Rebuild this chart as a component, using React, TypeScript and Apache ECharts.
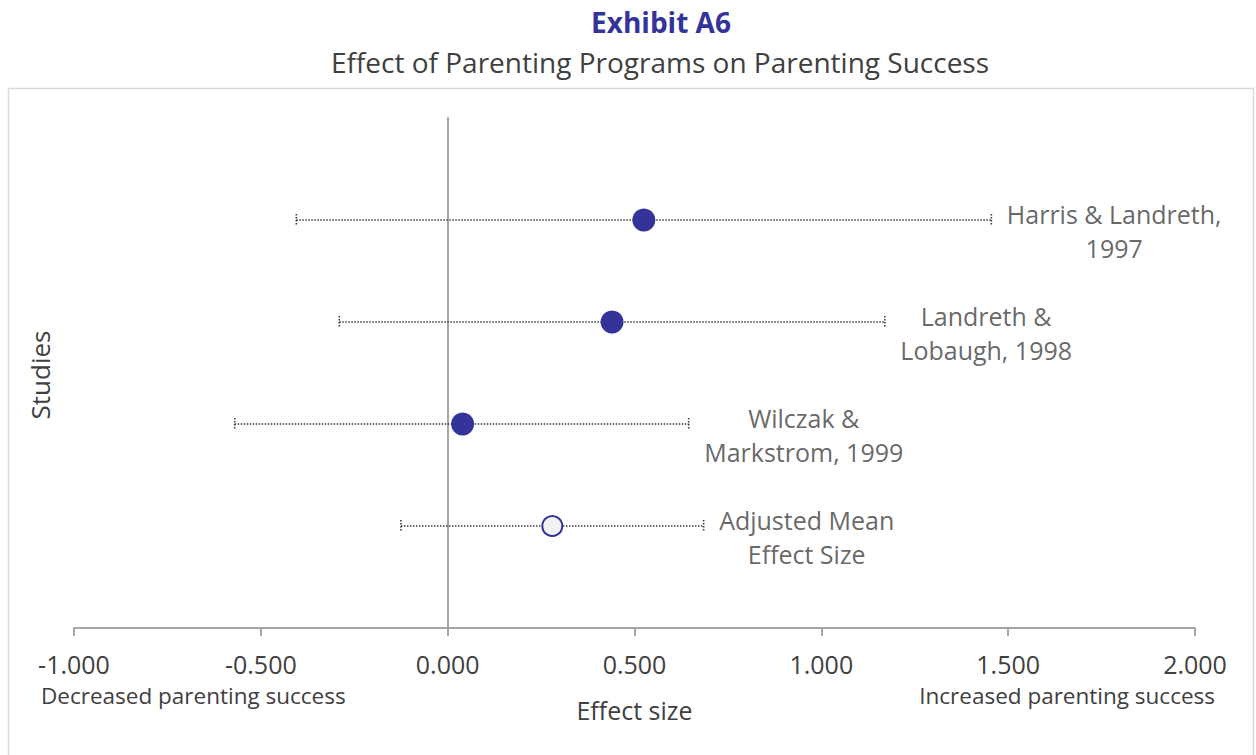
import React, { useEffect, useRef } from "react";
import * as echarts from "echarts";

const studyLabels = [
  ["Harris & Landreth,", "1997"],
  ["Landreth &", "Lobaugh, 1998"],
  ["Wilczak &", "Markstrom, 1999"],
  ["Adjusted Mean", "Effect Size"],
];
const rowIndex = [4, 3, 2, 1];
const effectSize = [0.525, 0.44, 0.04, 0.28];
const lowerCI = [-0.405, -0.29, -0.57, -0.125];
const upperCI = [1.455, 1.17, 0.645, 0.685];
const isAdjusted = [false, false, false, true];
const xMin = -1;
const xMax = 2;
const xInterval = 0.5;

const FONT = "'Open Sans', 'Noto Sans', sans-serif";
const TEXT = "#404040";
const NAVY = "#333399";

export default function App() {
  const ref = useRef<HTMLDivElement>(null);
  useEffect(() => {
    if (!ref.current) return;
    const chart = echarts.init(ref.current, null, { renderer: "svg" });
    const option: any = {
      animation: false,
      backgroundColor: "#ffffff",
      textStyle: { fontFamily: FONT },
      graphic: [
        {
          type: "text",
          x: 661,
          y: 22,
          style: {
            text: "Exhibit A6",
            fontFamily: FONT,
            fontSize: 28,
            fontWeight: "bold",
            fill: NAVY,
            align: "center",
            verticalAlign: "middle",
          },
        },
        {
          type: "text",
          x: 660,
          y: 62,
          style: {
            text: "Effect of Parenting Programs on Parenting Success",
            fontFamily: FONT,
            fontSize: 28,
            fill: TEXT,
            align: "center",
            verticalAlign: "middle",
          },
        },
        {
          type: "rect",
          silent: true,
          shape: { x: 8.5, y: 88.5, width: 1245, height: 720 },
          style: { fill: "none", stroke: "#d9d9d9", lineWidth: 1.5 },
        },
        {
          type: "text",
          x: 40,
          y: 375,
          rotation: Math.PI / 2,
          style: {
            text: "Studies",
            fontFamily: FONT,
            fontSize: 26,
            fill: TEXT,
            align: "center",
            verticalAlign: "middle",
          },
        },
        {
          type: "text",
          x: 41,
          y: 695,
          style: {
            text: "Decreased parenting success",
            fontFamily: FONT,
            fontSize: 22.5,
            fill: TEXT,
            align: "left",
            verticalAlign: "middle",
          },
        },
        {
          type: "text",
          x: 1215,
          y: 695,
          style: {
            text: "Increased parenting success",
            fontFamily: FONT,
            fontSize: 22.5,
            fill: TEXT,
            align: "right",
            verticalAlign: "middle",
          },
        },
      ],
      grid: { left: 74, right: 61, top: 118, bottom: 127 },
      xAxis: {
        type: "value",
        min: xMin,
        max: xMax,
        interval: xInterval,
        name: "Effect size",
        nameLocation: "middle",
        nameGap: 69,
        nameTextStyle: { fontFamily: FONT, fontSize: 25, color: TEXT },
        axisLine: { show: true, onZero: false, lineStyle: { color: "#a6a6a6", width: 2 } },
        axisTick: { show: true, length: 8, lineStyle: { color: "#a6a6a6", width: 2 } },
        axisLabel: {
          fontFamily: FONT,
          fontSize: 25,
          color: TEXT,
          margin: 23,
          formatter: (v: number) => v.toFixed(3),
        },
        splitLine: { show: false },
      },
      yAxis: {
        type: "value",
        min: 0,
        max: 5,
        axisLine: { show: true, onZero: true, lineStyle: { color: "#a6a6a6", width: 2 } },
        axisTick: { show: false },
        axisLabel: { show: false },
        splitLine: { show: false },
      },
      series: [
        {
          type: "custom",
          silent: true,
          z: 2,
          data: rowIndex.map((r, i) => [lowerCI[i], upperCI[i], r]),
          renderItem: (params: any, api: any) => {
            const lo = api.coord([api.value(0), api.value(2)]);
            const hi = api.coord([api.value(1), api.value(2)]);
            const style = { stroke: "#3a3a3a", lineWidth: 1.6, lineDash: [1.5, 1.5] };
            const cap = 6;
            return {
              type: "group",
              children: [
                { type: "line", shape: { x1: lo[0], y1: lo[1], x2: hi[0], y2: hi[1] }, style },
                { type: "line", shape: { x1: lo[0], y1: lo[1] - cap, x2: lo[0], y2: lo[1] + cap }, style },
                { type: "line", shape: { x1: hi[0], y1: hi[1] - cap, x2: hi[0], y2: hi[1] + cap }, style },
              ],
            };
          },
        },
        {
          type: "scatter",
          z: 3,
          symbol: "circle",
          symbolSize: 23,
          itemStyle: { opacity: 1 },
          data: rowIndex.map((r, i) => ({
            value: [effectSize[i], r],
            symbolSize: isAdjusted[i] ? 20 : 23,
            itemStyle: isAdjusted[i]
              ? { color: "#f2f2f2", borderColor: NAVY, borderWidth: 2, opacity: 1 }
              : { color: NAVY, borderWidth: 0, opacity: 1 },
          })),
        },
        {
          type: "scatter",
          z: 4,
          silent: true,
          symbolSize: 1,
          itemStyle: { color: "transparent" },
          data: rowIndex.map((r, i) => ({
            value: [upperCI[i], r],
            label: {
              show: true,
              position: "right",
              distance: 15,
              offset: [0, 11],
              formatter: studyLabels[i].map((s) => `{a|${s}}`).join("\n"),
              rich: {
                a: {
                  fontFamily: FONT,
                  fontSize: 25,
                  color: TEXT,
                  lineHeight: 34,
                  align: "center",
                },
              },
            },
          })),
        },
      ],
    };
    chart.setOption(option);
    return () => chart.dispose();
  }, []);
  return (
    <div
      ref={ref}
      style={{ position: "fixed", left: 0, top: 0, width: 1256, height: 755 }}
    />
  );
}
